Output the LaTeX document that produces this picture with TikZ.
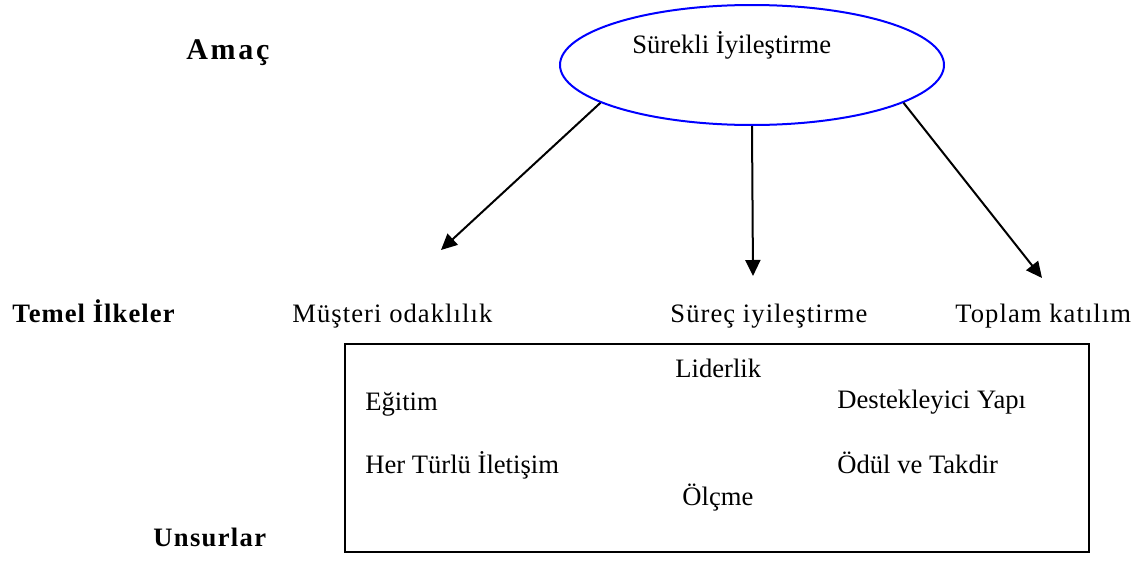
\documentclass[tikz,border=0pt]{standalone}
\usepackage{fontspec}
\setmainfont{Liberation Serif}
\usetikzlibrary{shapes.geometric,arrows.meta}
\tikzset{
  txt/.style={anchor=base west,inner sep=0pt,font=\fontsize{13.3}{16}\selectfont},
  spaced/.style={txt,font=\fontsize{13.3}{16}\selectfont\addfontfeatures{LetterSpace=4}},
  heading/.style={txt,font=\fontsize{13.3}{16}\selectfont\bfseries\addfontfeatures{LetterSpace=4}},
  goal/.style={draw=blue,line width=1pt,ellipse,minimum width=192pt,minimum height=60pt,inner sep=0pt},
  frame/.style={draw,line width=1pt},
  link/.style={line width=1pt,-{Triangle[length=8pt,width=7.5pt]}}
}
\begin{document}
\begin{tikzpicture}[x=0.5pt,y=-0.5pt]
\useasboundingbox (0,0) rectangle (1142,562);

% goal ellipse and its caption
\node[goal] (ell) at (752,65) {};
\node[txt] (goaltext) at (632,54) {Sürekli İyileştirme};
\node[txt,font=\fontsize{15}{18}\selectfont\bfseries\addfontfeatures{LetterSpace=9}] (amac) at (186,60) {Amaç};

% principles
\node[heading] (temel) at (12,322) {Temel İlkeler};
\node[spaced] (musteri) at (292,322) {Müşteri odaklılık};
\node[spaced] (surec) at (670,322) {Süreç iyileştirme};
\node[spaced] (toplam) at (955,322) {Toplam katılım};

% arrow targets
\coordinate (tl) at (441,250);
\coordinate (tm) at (753,276);
\coordinate (tr) at (1042,278);
\draw[link] (ell.194.4) -- (tl);
\draw[link] (ell.south) -- (tm);
\draw[link] (ell.-14.3) -- (tr);

% elements box
\node[frame,anchor=north west,minimum width=372pt,minimum height=104pt,inner sep=0pt] (box) at (344,343) {};
\node[txt] (lider) at (675,377) {Liderlik};
\node[txt] (egitim) at (365,410) {Eğitim};
\node[txt] (destek) at (837,408) {Destekleyici Yapı};
\node[txt] (iletisim) at (365,473) {Her Türlü İletişim};
\node[txt] (odul) at (837,473) {Ödül ve Takdir};
\node[txt] (olcme) at (682,505) {Ölçme};
\node[heading,font=\fontsize{13.3}{16}\selectfont\bfseries\addfontfeatures{LetterSpace=5}] (unsur) at (153,546) {Unsurlar};
\end{tikzpicture}
\end{document}
